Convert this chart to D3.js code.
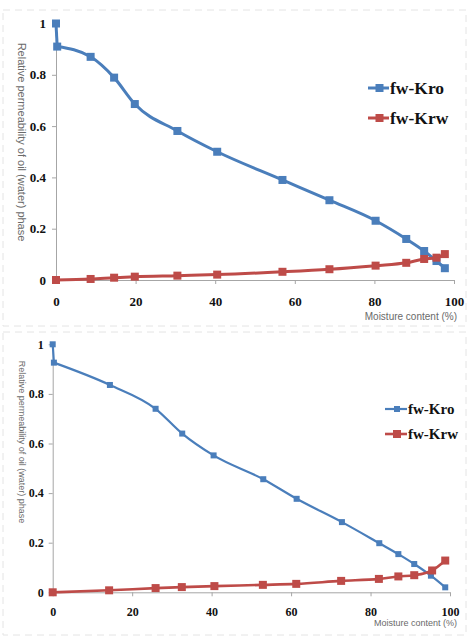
<!DOCTYPE html>
<html>
<head>
<meta charset="utf-8">
<script src="https://cdn.jsdelivr.net/npm/d3@7"></script>
<style>
  html, body { margin: 0; padding: 0; background: #fff; }
  svg { display: block; }
</style>
</head>
<body>
<svg id="chart" width="468" height="637"></svg>
<script>
// ---------- DATA ----------
const xTicks = [0, 20, 40, 60, 80, 100];
const yTicks = [0, 0.2, 0.4, 0.6, 0.8, 1];
const yTickLabels = ["0", "0.2", "0.4", "0.6", "0.8", "1"];
const seriesNames = ["fw-Kro", "fw-Krw"];
const xAxisTitle = "Moisture content (%)";
const yAxisTitle = "Relative permeability of oil (water) phase";

// Top chart
const topKroX = [0, 0.3, 8.7, 14.6, 19.8, 30.5, 40.5, 56.9, 68.7, 80.3, 88.0, 92.5, 95.6, 97.7];
const topKro  = [1.0, 0.91, 0.87, 0.789, 0.686, 0.581, 0.50, 0.39, 0.311, 0.231, 0.16, 0.113, 0.074, 0.046];
const topKrwX = [0, 8.7, 14.6, 19.8, 30.5, 40.5, 56.9, 68.7, 80.3, 88.0, 92.5, 95.6, 97.7];
const topKrw  = [0, 0.004, 0.009, 0.013, 0.017, 0.021, 0.032, 0.042, 0.056, 0.067, 0.082, 0.087, 0.101];

// Bottom chart
const botKroX = [0, 0.3, 14.4, 25.9, 32.6, 40.5, 53.0, 61.4, 72.8, 82.2, 87.0, 91.0, 95.2, 98.8];
const botKro  = [1.0, 0.926, 0.836, 0.74, 0.64, 0.552, 0.456, 0.377, 0.283, 0.198, 0.154, 0.114, 0.067, 0.02];
const botKrwX = [0, 14.2, 25.9, 32.5, 40.7, 52.9, 61.3, 72.6, 82.1, 87.0, 91.0, 95.5, 98.8];
const botKrw  = [0, 0.008, 0.017, 0.021, 0.025, 0.030, 0.034, 0.046, 0.054, 0.064, 0.069, 0.088, 0.128];

const colors = ["#4a7ebb", "#be4b48"];
const serif = "'Liberation Serif', 'Times New Roman', serif";
const sans = "'Liberation Sans', Arial, sans-serif";

const svg = d3.select("#chart");

function drawChart(cfg) {
  const g = svg.append("g");
  // faint dashed frame
  g.append("rect")
    .attr("x", cfg.frame[0]).attr("y", cfg.frame[1])
    .attr("width", cfg.frame[2]).attr("height", cfg.frame[3])
    .attr("fill", "none").attr("stroke", "#e4e4e4").attr("stroke-width", 1)
    .attr("stroke-dasharray", "7,5");

  const x = d3.scaleLinear().domain([0, 100]).range(cfg.xr);
  const y = d3.scaleLinear().domain([0, 1]).range(cfg.yr);

  // Y axis
  const ya = g.append("g").attr("transform", `translate(${x(0)},0)`)
    .call(d3.axisLeft(y).tickValues(yTicks).tickSize(4).tickSizeOuter(0)
      .tickFormat((d, i) => yTickLabels[i]).tickPadding(cfg.yPad));
  ya.attr("font-family", null);
  ya.select(".domain").attr("stroke", "#a6a6a6");
  ya.selectAll(".tick line").attr("stroke", "#a6a6a6");
  ya.selectAll(".tick text")
    .style("font-family", serif)
    .style("font-size", cfg.tickFont + "px").style("font-weight", "bold").attr("fill", "#111");

  // X axis
  const xa = g.append("g").attr("transform", `translate(0,${y(0)})`)
    .call(d3.axisBottom(x).tickValues(xTicks).tickSize(4).tickSizeOuter(0).tickPadding(cfg.xPad));
  xa.attr("font-family", null);
  xa.select(".domain").attr("stroke", "#a6a6a6");
  xa.selectAll(".tick line").attr("stroke", "#a6a6a6");
  xa.selectAll(".tick text")
    .style("font-family", serif)
    .style("font-size", cfg.tickFont + "px").style("font-weight", "bold").attr("fill", "#111");

  // axis titles
  g.append("text")
    .attr("transform", `translate(${cfg.yTitle[0]},${cfg.yTitle[1]}) rotate(90)`)
    .attr("text-anchor", "middle").attr("dominant-baseline", "central")
    .style("font-family", sans)
    .style("font-size", cfg.yTitleFont + "px").attr("fill", "#6a6a6a")
    .text(yAxisTitle);
  g.append("text")
    .attr("x", cfg.xTitle[0]).attr("y", cfg.xTitle[1])
    .attr("text-anchor", "end").attr("dominant-baseline", "central")
    .style("font-family", sans)
    .style("font-size", cfg.xTitleFont + "px").attr("fill", "#6a6a6a")
    .text(xAxisTitle);

  const curved = d3.line().x(d => x(d[0])).y(d => y(d[1])).curve(d3.curveMonotoneX);
  const straight = d3.line().x(d => x(d[0])).y(d => y(d[1]));

  cfg.series.forEach((s, i) => {
    const pts = s.xs.map((v, j) => [v, s.ys[j]]);
    // Kro: first (x≈0) jump drawn straight, rest smoothed
    const k = s.straightHead ? 1 : 0;
    if (k) {
      g.append("path").datum(pts.slice(0, 2))
        .attr("d", straight).attr("fill", "none")
        .attr("stroke", colors[i]).attr("stroke-width", s.lw);
    }
    g.append("path").datum(pts.slice(k))
      .attr("d", curved).attr("fill", "none")
      .attr("stroke", colors[i]).attr("stroke-width", s.lw)
      .attr("stroke-linejoin", "round");
    g.selectAll(null).data(pts).enter().append("rect")
      .attr("x", d => x(d[0]) - s.ms / 2).attr("y", d => y(d[1]) - s.ms / 2)
      .attr("width", s.ms).attr("height", s.ms)
      .attr("fill", colors[i]);
  });

  // legend
  seriesNames.forEach((name, i) => {
    const ly = cfg.legend[1] + i * cfg.legendGap;
    const lx = cfg.legend[0];
    g.append("line")
      .attr("x1", lx).attr("x2", lx + cfg.legendLen)
      .attr("y1", ly).attr("y2", ly)
      .attr("stroke", colors[i]).attr("stroke-width", cfg.series[i].lw);
    g.append("rect")
      .attr("x", lx + cfg.legendLen / 2 - cfg.series[i].ms / 2 + 1)
      .attr("y", ly - cfg.series[i].ms / 2)
      .attr("width", cfg.series[i].ms).attr("height", cfg.series[i].ms)
      .attr("fill", colors[i]);
    g.append("text")
      .attr("x", lx + cfg.legendLen + 1).attr("y", ly)
      .attr("dominant-baseline", "central")
      .style("font-family", serif)
      .style("font-size", cfg.legendFont + "px").style("font-weight", "bold").attr("fill", "#111")
      .text(name);
  });
}

drawChart({
  frame: [3, 10, 463, 316],
  xr: [56, 454], yr: [280, 23.5],
  yPad: 6, xPad: 13, tickFont: 13,
  yTitle: [22, 142], yTitleFont: 11, xTitle: [457, 316], xTitleFont: 10,
  series: [
    { xs: topKroX, ys: topKro, lw: 3, ms: 8, straightHead: true },
    { xs: topKrwX, ys: topKrw, lw: 3, ms: 8 }
  ],
  legend: [368, 88], legendGap: 30, legendLen: 21, legendFont: 17.5
});

drawChart({
  frame: [3, 332, 463, 303],
  xr: [52.7, 450], yr: [592.3, 344.3],
  yPad: 5, xPad: 11, tickFont: 12,
  yTitle: [22, 442], yTitleFont: 9, xTitle: [457, 623], xTitleFont: 9,
  series: [
    { xs: botKroX, ys: botKro, lw: 2.2, ms: 6, straightHead: true },
    { xs: botKrwX, ys: botKrw, lw: 2.6, ms: 8 }
  ],
  legend: [385, 409], legendGap: 25, legendLen: 22, legendFont: 15
});
</script>
</body>
</html>
